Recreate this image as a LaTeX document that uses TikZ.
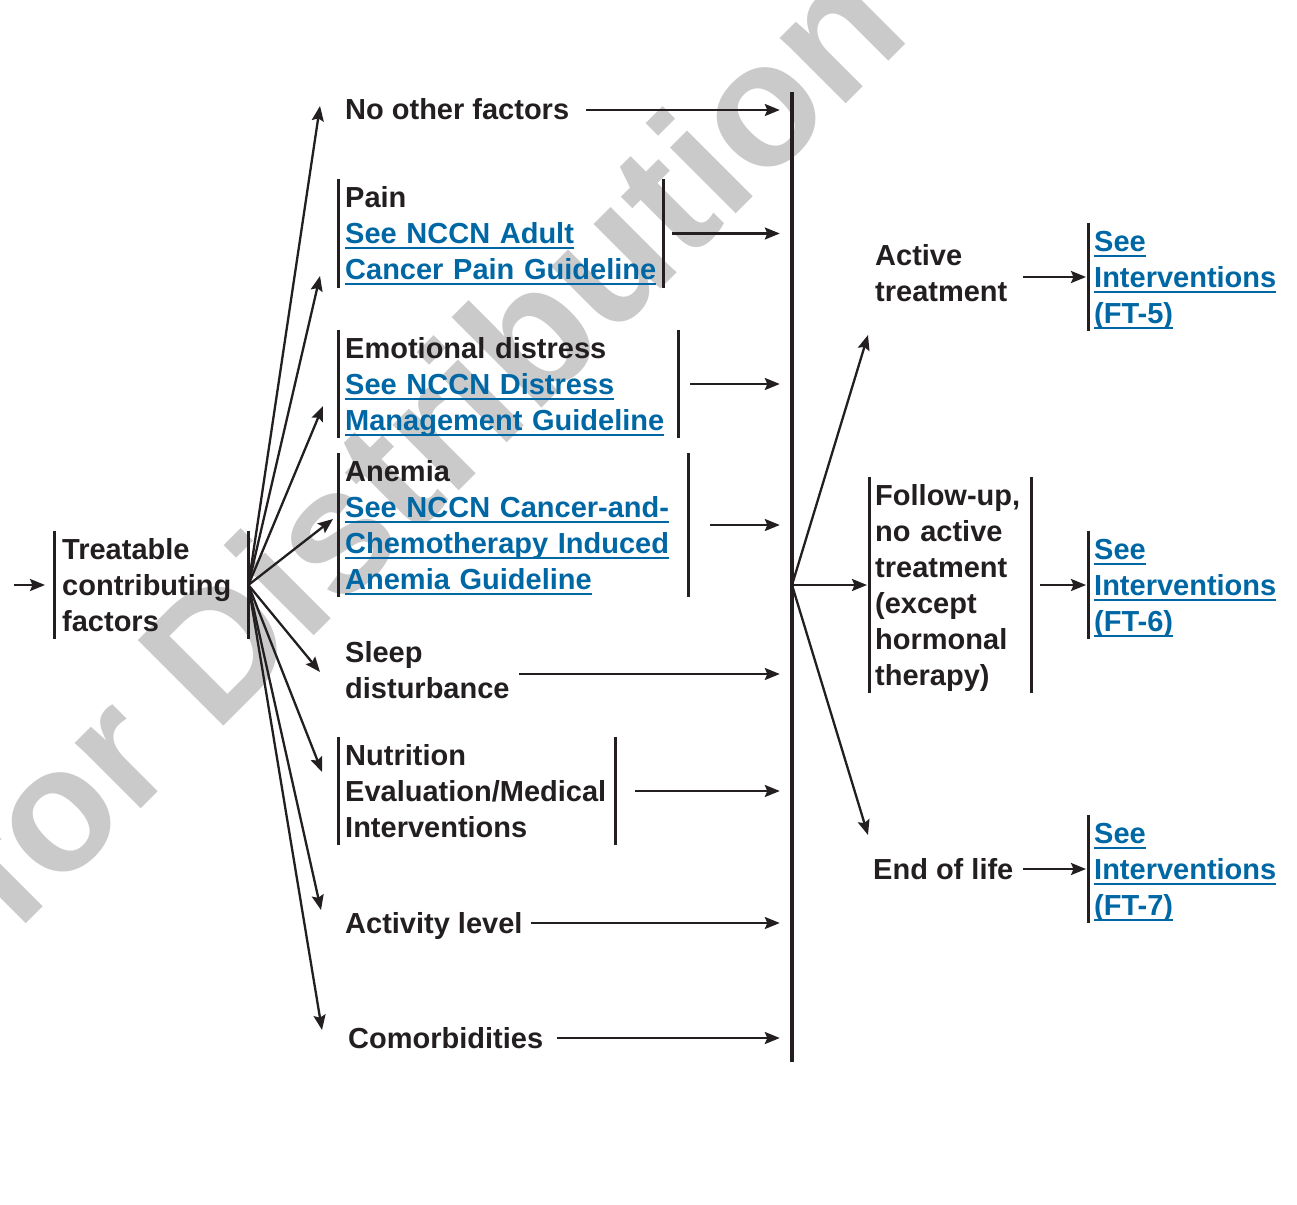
\documentclass[tikz,border=0pt]{standalone}
\usepackage{fontspec}
\setmainfont{Liberation Sans}
\usetikzlibrary{%
    arrows.meta,
    calc,
    positioning
}
\definecolor{ink}{HTML}{231F20}
\definecolor{linkblue}{HTML}{0067A5}
\definecolor{stampgray}{HTML}{CACACA}
\newcommand{\lstrut}{\rule[-8pt]{0pt}{36pt}}
\newcommand{\seelink}[1]{\leavevmode{\color{linkblue}\setbox0=\hbox{#1}\rlap{\rule[-5.5pt]{\wd0}{2pt}}\box0}}

\begin{document}
\begin{tikzpicture}[x=1pt, y=-1pt,
    every node/.style={font=\fontsize{29}{36}\selectfont\bfseries, text=ink},
    txt/.style={anchor=west, align=left, inner xsep=7pt, inner ysep=0pt,
                execute at begin node=\lstrut, execute at end node=\lstrut},
    boxtxt/.style={txt, text width=#1},
    bar/.style={draw=ink, line width=3pt},
    arr/.style={draw=ink, line width=2.3pt, -{Stealth[length=15pt,width=12pt,inset=2.5pt]}}]
    \useasboundingbox (0,0) rectangle (1297,1204);

    % watermark
    \node (stamp) [rotate=45, anchor=base west, inner sep=0,
                   font=\fontsize{176}{176}\selectfont\bfseries, text=stampgray]
        at (-227,1177) {Not for Distribution};

    \node (treat) [boxtxt=178, inner xsep=8pt] at (54,585) {Treatable\\contributing\\factors};

    \node (nof)    [txt]        at (338,110)   {No other factors};
    \node (pain)   [boxtxt=311] at (338,233.5) {Pain\\\seelink{See NCCN Adult}\\\seelink{Cancer Pain Guideline}};
    \node (emo)    [boxtxt=326] at (338,384)   {Emotional distress\\\seelink{See NCCN Distress}\\\seelink{Management Guideline}};
    \node (anemia) [boxtxt=336] at (338,525)   {Anemia\\\seelink{See NCCN Cancer-and-}\\\seelink{Chemotherapy Induced}\\\seelink{Anemia Guideline}};
    \node (sleep)  [txt]        at (338,674)   {Sleep\\disturbance};
    \node (nutr)   [boxtxt=263] at (338,791)   {Nutrition\\Evaluation/Medical\\Interventions};
    \node (act)    [txt]        at (338,923)   {Activity level};
    \node (comorb) [txt]        at (341,1038)  {Comorbidities};

    \node (spine) [minimum height=970pt, minimum width=22pt, inner sep=0pt] at (792,577) {};
    \draw[draw=ink, line width=3.2pt] (spine.north) -- (spine.south);

    \node (active) [txt, inner xsep=6pt]        at (869,277) {Active\\treatment};
    \node (follow) [boxtxt=150, inner xsep=6pt] at (869,585) {Follow-up,\\no active\\treatment\\(except\\hormonal\\therapy)};
    \node (eol)    [txt, inner xsep=6pt]        at (867,869) {End of life};

    \node (ft5) [boxtxt=185, inner xsep=6pt] at (1088,277) {\seelink{See}\\\seelink{Interventions}\\\seelink{(FT-5)}};
    \node (ft6) [boxtxt=185, inner xsep=6pt] at (1088,585) {\seelink{See}\\\seelink{Interventions}\\\seelink{(FT-6)}};
    \node (ft7) [boxtxt=185, inner xsep=6pt] at (1088,869) {\seelink{See}\\\seelink{Interventions}\\\seelink{(FT-7)}};

    \foreach \Name in {treat, pain, emo, anemia, nutr, follow}
        \draw[bar] (\Name.north west) -- (\Name.south west)
                   (\Name.north east) -- (\Name.south east);
    \foreach \Name in {ft5, ft6, ft7}
        \draw[bar] (\Name.north west) -- (\Name.south west);

    % fan out of the treatable factors
    \coordinate (start) at (14,585);
    \draw[arr] (start) -- ([xshift=-9]treat.west);
    \coordinate (tip-nof)    at (320,106);
    \coordinate (tip-pain)   at (320,276);
    \coordinate (tip-emo)    at (323,406);
    \coordinate (tip-anemia) at (333,519);
    \coordinate (tip-sleep)  at (320,672);
    \coordinate (tip-nutr)   at (322,772);
    \coordinate (tip-act)    at (321,910);
    \coordinate (tip-comorb) at (322,1030);
    \foreach \Target in {nof, pain, emo, anemia, sleep, nutr, act, comorb}
        \draw[arr] (treat.east) -- (tip-\Target);

    \foreach \Source/\Gap in {%
        nof/10,
        pain/9,
        emo/12,
        anemia/22,
        sleep/2,
        nutr/20,
        act/1,
        comorb/7%
    }
    \draw[arr] ([xshift=\Gap]\Source.east) -- ([xshift=-1]spine.west |- \Source.east);

    % out of the spine
    \coordinate (hub) at (spine.center |- treat.east);
    \coordinate (tip-active) at (868,335);
    \coordinate (tip-eol)    at (868,835);
    \draw[arr] (hub) -- (tip-active);
    \draw[arr] (hub) -- ([xshift=-2]follow.west);
    \draw[arr] (hub) -- (tip-eol);

    \draw[arr] ([xshift=9]active.east) -- ([xshift=-2]ft5.west);
    \draw[arr] ([xshift=9]follow.east) -- ([xshift=-2]ft6.west);
    \draw[arr] ([xshift=3]eol.east)    -- ([xshift=-2]ft7.west);
\end{tikzpicture}
\end{document}
